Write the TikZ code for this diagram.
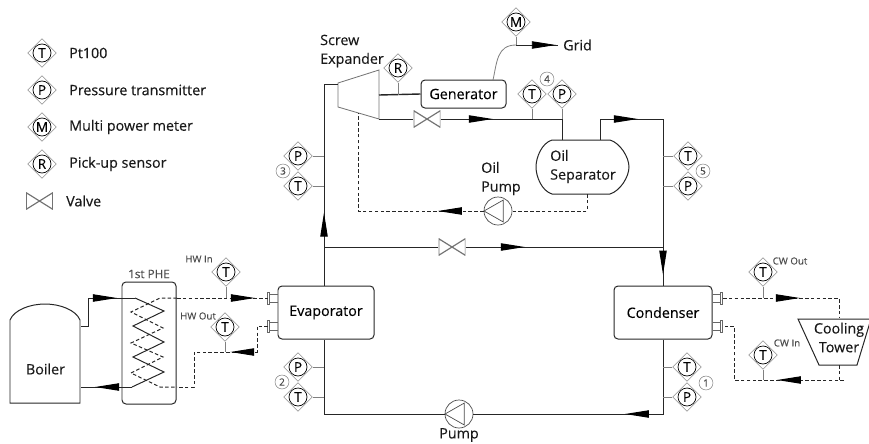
\documentclass[tikz,border=0pt]{standalone}
\usepackage{fontspec}
\setmainfont{Open Sans}[UprightFeatures={FakeBold=0.25}]
\usetikzlibrary{shapes.geometric,arrows.meta,decorations.markings}
\begin{document}
\begin{tikzpicture}[x=0.03cm, y=-0.03cm,
    pipe/.style={draw=black!85, line width=0.85pt},
    oilline/.style={pipe, dashed, dash pattern=on 3pt off 2pt},
    stub/.style={draw=black!50, line width=0.6pt},
    flow/.style={postaction={decorate}, decoration={markings, mark=at position #1 with {\arrow{Triangle[length=0.72cm,width=0.22cm,fill=black,color=black]}}}},
    sensor/.style={diamond, draw=black!45, line width=0.5pt, inner sep=0pt, minimum size=0.86cm, font=\fontsize{11.5}{12}\selectfont,
        path picture={\draw[black, line width=0.6pt] (path picture bounding box.center) circle (0.27cm);}},
    numtag/.style={circle, draw=black!55, line width=0.4pt, inner sep=0pt, minimum size=0.42cm, font=\fontsize{8.5}{9}\selectfont\rmfamily, text=black!70},
    unit/.style={draw=black!85, line width=0.85pt, rounded corners=0.12cm, inner sep=0pt, font=\fontsize{12.2}{14}\selectfont},
    txt/.style={inner sep=0pt, anchor=west, font=\fontsize{12.2}{16}\selectfont, align=left, text=black!90},
    tiny/.style={inner sep=0pt, font=\fontsize{8.3}{9}\selectfont, text=black!70},
    valve/.style={minimum width=0.8cm, minimum height=0.5cm, inner sep=0pt,
        path picture={\draw[draw=black!55, line width=1pt] (path picture bounding box.north west) -- (path picture bounding box.south east) -- (path picture bounding box.north east) -- (path picture bounding box.south west) -- cycle;}},
    pumpsym/.style={circle, draw=black!70, line width=0.6pt, minimum size=0.84cm, inner sep=0pt,
        path picture={\draw[draw=black!70, line width=0.6pt] (path picture bounding box.west) -- ([xshift=0.58cm,yshift=0.33cm]path picture bounding box.west) -- ([xshift=0.58cm,yshift=-0.33cm]path picture bounding box.west) -- cycle;}},
    flange/.pic={
        \draw[draw=black!60, line width=0.6pt] (0,-4) -- (-8,-4) (0,4) -- (-8,4);
        \draw[draw=black!60, line width=0.6pt] (-10,-6) rectangle (-8,6);}
    ]
    \useasboundingbox (0,0) rectangle (869,443);

    % legend
    \node[sensor] (lgT) at (42,53) {T};
    \node[sensor] (lgP) at (42,90) {P};
    \node[sensor] (lgM) at (42,127) {M};
    \node[sensor] (lgR) at (42,164) {R};
    \node[valve] (lgV) at (39.5,201) {};
    \node[txt] (lgTt) at (69,53) {Pt100};
    \node[txt] (lgPt) at (69,90) {Pressure transmitter};
    \node[txt] (lgMt) at (69,127) {Multi power meter};
    \node[txt] (lgRt) at (69,164) {Pick-up sensor};
    \node[txt] (lgVt) at (66,201) {Valve};

    % units
    \node[unit, minimum width=2.88cm, minimum height=1.59cm] (evap) at (326,312.5) {Evaporator};
    \node[unit, minimum width=2.94cm, minimum height=1.59cm] (cond) at (663,312.5) {Condenser};
    \node[unit, minimum width=2.55cm, minimum height=0.84cm] (gen) at (463.5,94) {Generator};
    \node[unit, minimum width=1.62cm, minimum height=3.66cm] (phe) at (149,343) {};
    \node[tiny, font=\fontsize{10}{11}\selectfont] (pheT) at (149,274) {1st PHE};
    \node[pumpsym] (pump) at (459,414) {};
    \node[pumpsym] (oilPump) at (498,211) {};
    \node[valve] (vTop) at (427,119) {};
    \node[valve] (vByp) at (452,247) {};

    % boiler
    \draw[pipe] (10,403) -- (10,320) .. controls (14,310) and (30,304) .. (45,304) .. controls (60,304) and (76,310) .. (80,320) -- (80,403) -- cycle;
    \node[txt, anchor=center] (boilerT) at (45.5,369) {Boiler};

    % oil separator
    \draw[pipe] (552,140) -- (610,140) .. controls (620,143) and (629,157) .. (629,167) .. controls (629,177) and (620,191) .. (610,194) -- (552,194) .. controls (542,191) and (536,177) .. (536,167) .. controls (536,157) and (542,143) .. (552,140) -- cycle;
    \node[txt] (sepT) at (550,166.5) {Oil\\Separator};

    % expander
    \coordinate (exTL) at (338,83);
    \coordinate (exTR) at (379,70);
    \coordinate (exBR) at (379,119);
    \coordinate (exBL) at (338,107);
    \draw[draw=black!55, line width=0.7pt] (exTL) -- (exTR) -- (exBR) -- (exBL) -- cycle;
    \node[txt] (exT) at (320,51) {Screw\\Expander};

    % cooling tower
    \coordinate (ctTL) at (798,319);
    \coordinate (ctTR) at (871,319);
    \coordinate (ctBR) at (857,365);
    \coordinate (ctBL) at (819,365);
    \draw[pipe] (ctTL) -- (ctTR) -- (ctBR) -- (ctBL) -- cycle;
    \node[txt, anchor=center, align=center] (ctT) at (839,337.5) {Cooling\\Tower};

    % main loop
    \coordinate (exIn) at (338,84);
    \coordinate (sepOut) at (600,140);
    \coordinate (jR) at (663,119);
    \coordinate (jGen) at (379,95);
    \coordinate (jByp) at (324,247);
    \coordinate (jBypR) at (663,247);
    \coordinate (sepIn) at (562,140);
    \coordinate (jSep) at (562,119);
    \draw[pipe, flow=0.426] (cond.south) |- (pump.east);
    \draw[pipe] (pump.west) -| (jByp |- evap.south);
    \draw[pipe, flow=0.338] (jByp |- evap.north) |- (exIn);
    \draw[pipe] (exBR) -- (vTop.west);
    \draw[pipe, flow=0.43] (vTop.east) -- (jSep);
    \draw[pipe] (jSep) -- (sepIn);
    \draw[pipe, flow=0.70] (sepOut) |- (jR);
    \draw[pipe, flow=0.934] (jR) -- (jR |- cond.north);
    \draw[pipe] (jByp) -- (vByp.west);
    \draw[pipe, flow=0.30] (vByp.east) -- (jBypR);
    \draw[pipe, line width=1.2pt] (jGen) -- (gen.west);

    % grid
    \coordinate (jGrid) at (516,45);
    \coordinate (gridEnd) at (558,45);
    \node[txt] (gridT) at (563,45) {Grid};
    \draw[stub, line width=0.7pt] (493,80) .. controls (497,62) and (497,45) .. (jGrid);
    \draw[pipe, line width=0.7pt, flow=0.95] (jGrid) -- (gridEnd);

    % oil return
    \coordinate (oilOut) at (587,194);
    \coordinate (oilEnd) at (358,113);
    \draw[oilline] (oilOut) |- (oilPump.east);
    \draw[oilline, flow=0.205] (oilPump.west) -| (oilEnd);
    \node[txt] (oilT) at (481,178.5) {Oil\\Pump};

    % boiler loop and first heat exchanger
    \coordinate (blOut) at (81,326);
    \coordinate (blIn) at (81,387);
    \draw[pipe, flow=0.78] (blOut) -- (88,326) -- (88,298) -- (135,298);
    \draw[pipe] (135,298) -- (164,311) -- (133,326) -- (164,342) -- (133,357) -- (164,372) -- (132,387);
    \draw[pipe, flow=0.725] (132,387) -- (blIn);
    \draw[oilline] (177,298) -- (160,298) -- (131,312) -- (163,328) -- (131,343) -- (163,357) -- (131,373) -- (160,387) -- (177,387);

    % hot water
    \coordinate (eInA) at (268,298);
    \coordinate (eInB) at (268,326);
    \coordinate (pheA) at (177,298);
    \coordinate (pheB) at (177,387);
    \pic at (evap.west |- eInA) {flange};
    \pic at (evap.west |- eInB) {flange};
    \draw[oilline, flow=0.857] (pheA) -- (eInA);
    \draw[oilline, flow=0.42] (eInB) -- (257,326) -- (257,352) -- (194,352) -- (194,387) -- (pheB);

    % cooling water
    \coordinate (cOutA) at (723,298);
    \coordinate (cOutB) at (723,326);
    \coordinate (ctIn) at (839,317);
    \coordinate (ctOut) at (839,365);
    \pic[xscale=-1] at (cond.east |- cOutA) {flange};
    \pic[xscale=-1] at (cond.east |- cOutB) {flange};
    \draw[oilline, flow=0.57] (cOutA) -| (ctIn);
    \draw[oilline, flow=0.383] (844,380) -- (734,380) -- (734,326) -- (cOutB);
    \draw[oilline] (ctOut) -- (839,380);

    % sensors on the main loop
    \node[sensor] (pExp) at (298,156) {P};
    \node[sensor] (tExp) at (298,186) {T};
    \node[numtag] (n3) at (283,171) {3};
    \draw[stub] (pExp) -- (324,156);
    \draw[stub] (tExp) -- (324,186);

    \node[sensor] (pEva) at (298,367) {P};
    \node[sensor] (tEva) at (298,397) {T};
    \node[numtag] (n2) at (282,382) {2};
    \draw[stub] (pEva) -- (324,367);
    \draw[stub] (tEva) -- (324,397);

    \node[sensor] (tCnd) at (687,367) {T};
    \node[sensor] (pCnd) at (687,397) {P};
    \node[numtag] (n1) at (706,383) {1};
    \draw[stub] (tCnd) -- (663,367);
    \draw[stub] (pCnd) -- (663,397);

    \node[sensor] (tSep) at (688,156) {T};
    \node[sensor] (pSep) at (688,186) {P};
    \node[numtag] (n5) at (703,171) {5};
    \draw[stub] (tSep) -- (663,156);
    \draw[stub] (pSep) -- (663,186);

    \node[sensor] (tTop) at (532,94) {T};
    \node[sensor] (pTop) at (562,94) {P};
    \node[numtag] (n4) at (547,79) {4};
    \draw[stub] (tTop) -- (532,119);
    \draw[stub] (pTop) -- (jSep);

    \node[sensor] (rGen) at (398,68) {R};
    \draw[stub] (rGen) -- (398,95);
    \node[sensor] (mGrid) at (516,22) {M};
    \draw[stub] (mGrid) -- (jGrid);

    % water temperature sensors
    \node[sensor] (tHwIn) at (226,272) {T};
    \node[tiny] (hwIn) at (199,259) {HW In};
    \draw[stub] (tHwIn) -- (226,298);
    \node[sensor] (tHwOut) at (225,327) {T};
    \node[tiny] (hwOut) at (198,316) {HW Out};
    \draw[stub] (tHwOut) -- (225,352);
    \node[sensor] (tCwOut) at (763,272) {T};
    \node[tiny] (cwOut) at (790,261) {CW Out};
    \draw[stub] (tCwOut) -- (763,298);
    \node[sensor] (tCwIn) at (763,355) {T};
    \node[tiny] (cwIn) at (787,343) {CW In};
    \draw[stub] (tCwIn) -- (763,380);

    % pump label
    \node[txt, anchor=center] (pumpT) at (459,435) {Pump};
\end{tikzpicture}
\end{document}
